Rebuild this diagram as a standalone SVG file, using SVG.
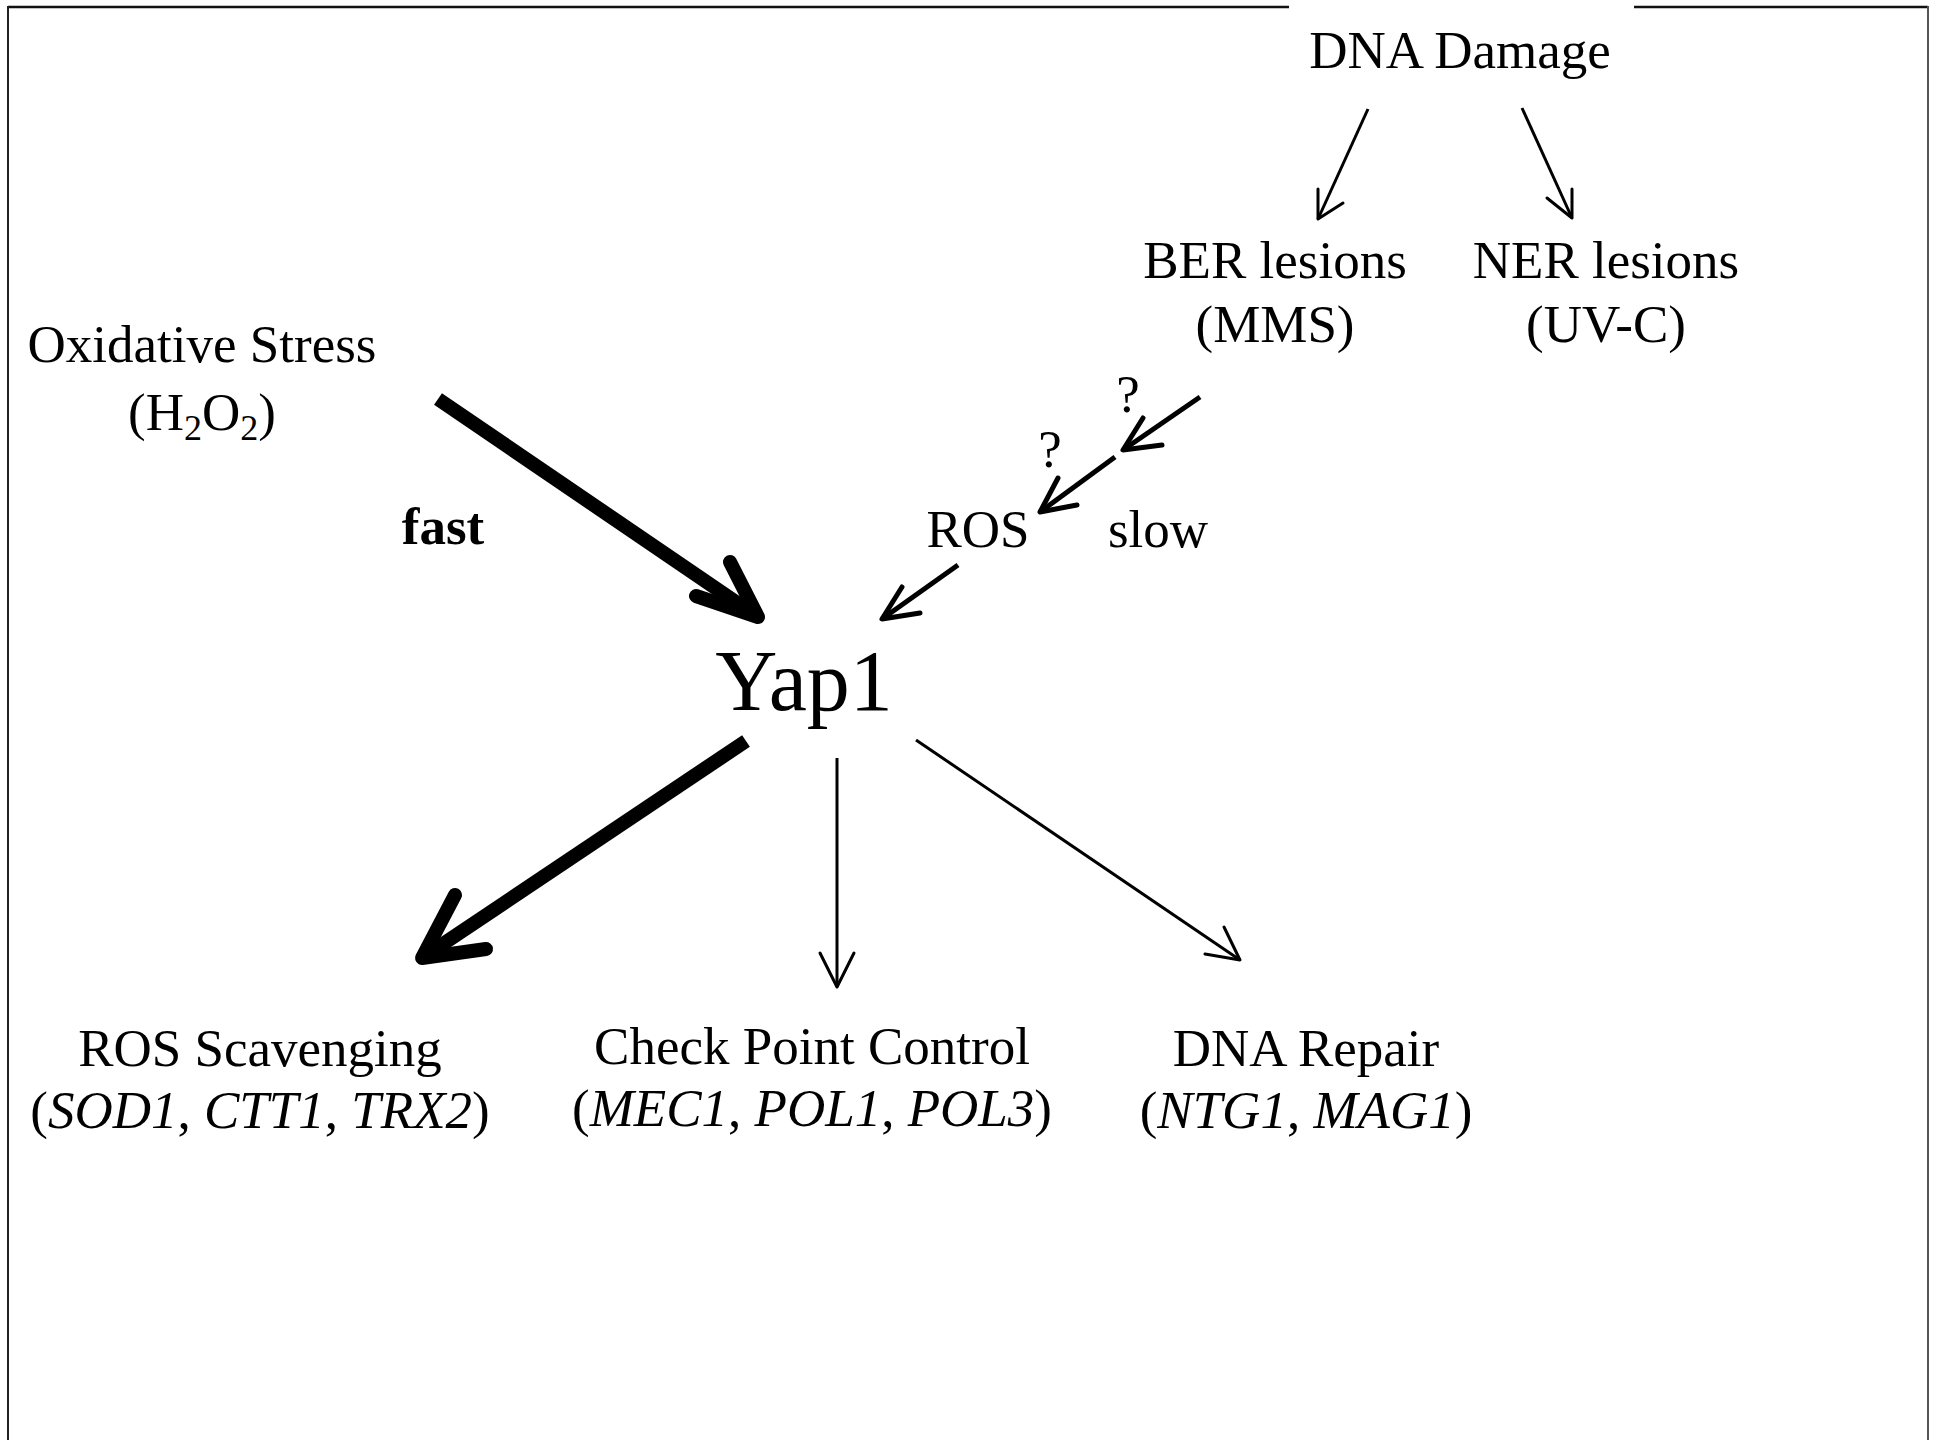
<svg xmlns="http://www.w3.org/2000/svg" width="1937" height="1440" viewBox="0 0 1937 1440">
<style>
text{font-family:"Liberation Serif","Times New Roman",serif;fill:#000;text-anchor:middle;font-size:53px}
.it{font-style:italic}
.sub{font-size:36px}
.ln{fill:none;stroke:#000;stroke-linecap:butt}
.hd{fill:none;stroke:#000;stroke-linecap:round;stroke-linejoin:round}
.thick{stroke-width:14}
.mid{stroke-width:5}
.thin{stroke-width:3}
</style>
<rect width="1937" height="1440" fill="#fff"/>
<g id="frame" fill="none">
<line x1="8" y1="7" x2="1928" y2="7" stroke="#111" stroke-width="2.5"/>
<line x1="8" y1="6" x2="8" y2="1440" stroke="#222" stroke-width="2"/>
<line x1="1928" y1="6" x2="1928" y2="1440" stroke="#555" stroke-width="2"/>
<rect x="1289" y="3" width="345" height="9" fill="#fff"/>
</g>
<g id="dna-damage"><text x="1460" y="68">DNA Damage</text></g>
<g id="ber-lesions"><text x="1275" y="278">BER lesions</text><text x="1275" y="342">(MMS)</text></g>
<g id="ner-lesions"><text x="1606" y="278">NER lesions</text><text x="1606" y="342">(UV-C)</text></g>
<g id="oxidative-stress"><text x="202" y="362">Oxidative Stress</text><text x="202" y="430">(H<tspan class="sub" dy="10">2</tspan><tspan dy="-10">O</tspan><tspan class="sub" dy="10">2</tspan><tspan dy="-10">)</tspan></text></g>
<g id="ros"><text x="978" y="547">ROS</text></g>
<g id="yap1"><text x="804" y="710" style="font-size:86px">Yap1</text></g>
<g id="ros-scavenging"><text x="260" y="1066">ROS Scavenging</text><text x="260" y="1128">(<tspan class="it">SOD1</tspan>, <tspan class="it">CTT1</tspan>, <tspan class="it">TRX2</tspan>)</text></g>
<g id="check-point"><text x="812" y="1064">Check Point Control</text><text x="812" y="1126">(<tspan class="it">MEC1</tspan>, <tspan class="it">POL1</tspan>, <tspan class="it">POL3</tspan>)</text></g>
<g id="dna-repair"><text x="1306" y="1066">DNA Repair</text><text x="1306" y="1128">(<tspan class="it">NTG1</tspan>, <tspan class="it">MAG1</tspan>)</text></g>
<g id="labels">
<text x="443" y="544" style="font-weight:bold">fast</text>
<text x="1158" y="547">slow</text>
<text x="1128" y="412">?</text>
<text x="1050" y="467">?</text>
</g>
<g id="connectors">
<path class="ln thin" d="M1368,109 L1318,219"/>
<polyline class="hd thin" points="1318,189 1318,219 1343,203"/>
<path class="ln thin" d="M1522,108 L1572,218"/>
<polyline class="hd thin" points="1547,198 1572,218 1572,189"/>
<path class="ln thick" d="M438,399 L755,615"/>
<polyline class="hd thick" points="730,562 758,617 696,596"/>
<path class="ln mid" d="M1200,397 L1123,450"/>
<polyline class="hd mid" points="1143,418 1123,450 1162,445"/>
<path class="ln mid" d="M1115,457 L1040,512"/>
<polyline class="hd mid" points="1058,478 1040,512 1077,505"/>
<path class="ln mid" d="M958,565 L882,619"/>
<polyline class="hd mid" points="902,587 882,619 920,613"/>
<path class="ln thick" d="M746,741 L425,956"/>
<polyline class="hd thick" points="455,895 422,958 486,949"/>
<path class="ln thin" d="M837,758 L837,987"/>
<polyline class="hd thin" points="820,953 837,987 854,953"/>
<path class="ln thin" d="M916,740 L1240,960"/>
<polyline class="hd thin" points="1224,927 1240,960 1205,954"/>
</g>
</svg>
